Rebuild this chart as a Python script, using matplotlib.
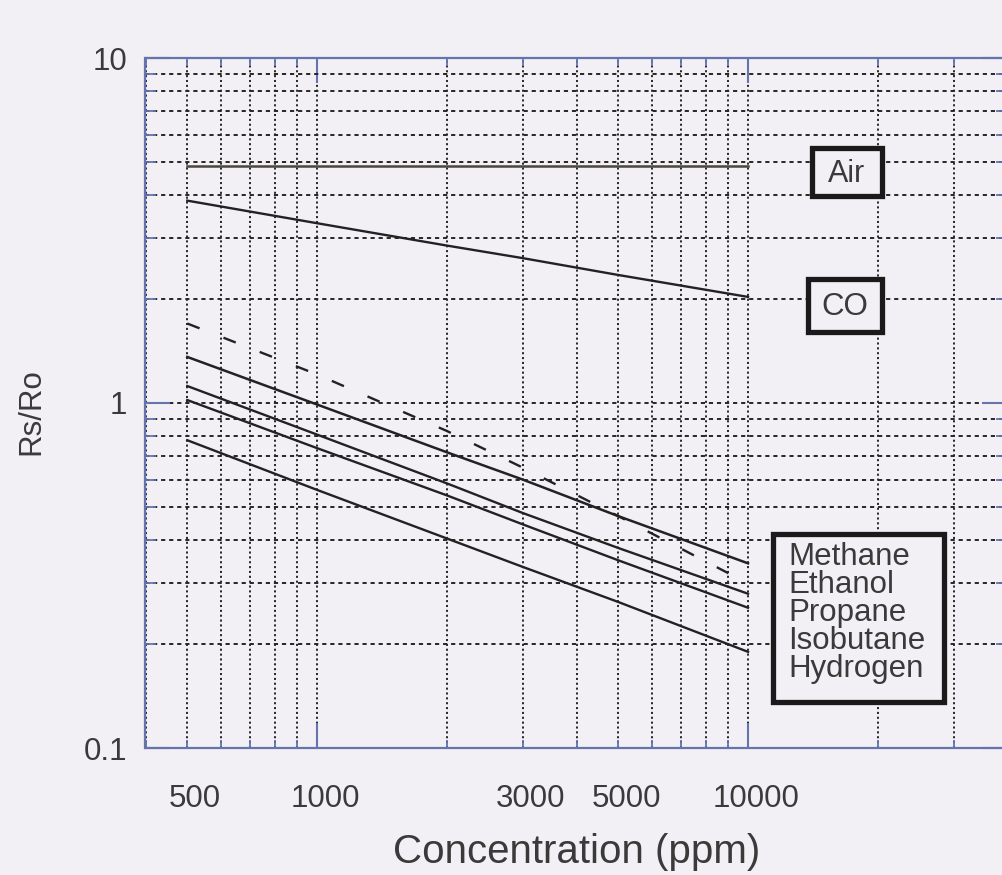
import matplotlib
matplotlib.use('Agg')
import matplotlib.pyplot as plt
import matplotlib.transforms as mtransforms
from matplotlib.ticker import FixedLocator, FixedFormatter, LogLocator, NullFormatter
from matplotlib.patches import Rectangle

plt.rcParams['font.family'] = ['Liberation Sans', 'DejaVu Sans']
plt.rcParams['lines.scale_dashes'] = False

# ---------------- data ----------------
conc_ppm = [500, 1000, 2000, 3000, 5000, 10000]
air_rs = [4.85, 4.85, 4.85, 4.85, 4.85, 4.85]
co_rs = [3.86, 3.32, 2.86, 2.63, 2.35, 2.03]
methane_rs = [1.70, 1.21, 0.83, 0.65, 0.47, 0.30]
ethanol_rs = [1.36, 0.99, 0.72, 0.60, 0.47, 0.343]
propane_rs = [1.12, 0.81, 0.585, 0.48, 0.38, 0.28]
isobutane_rs = [1.02, 0.74, 0.54, 0.445, 0.35, 0.255]
hydrogen_rs = [0.78, 0.56, 0.405, 0.335, 0.265, 0.19]

gas_names = ['Methane', 'Ethanol', 'Propane', 'Isobutane', 'Hydrogen']
x_tick_values = [500, 1000, 3000, 5000, 10000]
x_tick_labels = ['500', '1000', '3000', '5000', '10000']
x_long_ticks = [1000, 10000]
y_tick_values = [0.1, 1, 10]
y_tick_labels = ['0.1', '1', '10']

# ---------------- style ----------------
W, H = 1003, 875
bg = '#f2f0f4'
spine_col = '#6674ad'
grid_col = '#262626'
line_col = '#222222'
text_col = '#3a3a3a'

fig = plt.figure(figsize=(W / 100, H / 100), dpi=100, facecolor=bg)
ax = fig.add_axes([145.5 / W, 127 / H, 862 / W, 690 / H], facecolor=bg)

ax.set_xscale('log')
ax.set_yscale('log')
ax.set_xlim(400, 40000)
ax.set_ylim(0.1, 10)

ax.plot(conc_ppm, air_rs, color='#4a4640', lw=1.8, zorder=3)
ax.plot(conc_ppm, co_rs, color=line_col, lw=1.7, zorder=3)
ax.plot(conc_ppm, methane_rs, color=line_col, lw=1.7, zorder=3,
        linestyle=(0, (9.5, 18.5)))
ax.plot(conc_ppm, ethanol_rs, color=line_col, lw=1.8, zorder=3)
ax.plot(conc_ppm, propane_rs, color=line_col, lw=1.7, zorder=3)
ax.plot(conc_ppm, isobutane_rs, color=line_col, lw=1.7, zorder=3)
ax.plot(conc_ppm, hydrogen_rs, color=line_col, lw=1.7, zorder=3)

# ticks
ax.xaxis.set_major_locator(FixedLocator(x_tick_values))
ax.xaxis.set_major_formatter(FixedFormatter(x_tick_labels))
ax.xaxis.set_minor_locator(LogLocator(base=10, subs=list(range(2, 10)), numticks=30))
ax.xaxis.set_minor_formatter(NullFormatter())
ax.yaxis.set_major_locator(FixedLocator(y_tick_values))
ax.yaxis.set_major_formatter(FixedFormatter(y_tick_labels))
ax.yaxis.set_minor_locator(LogLocator(base=10, subs=list(range(2, 10)), numticks=30))
ax.yaxis.set_minor_formatter(NullFormatter())

ax.tick_params(which='both', direction='in', top=True, right=True,
               color=spine_col, labelcolor=text_col, labelsize=22.5)
ax.tick_params(axis='y', which='major', length=18, width=1.5, pad=13)
ax.tick_params(axis='y', which='minor', length=8, width=1.3)
ax.tick_params(axis='x', which='major', length=6, width=1.3, pad=26)
ax.tick_params(axis='x', which='minor', length=6, width=1.3)

shift = mtransforms.ScaledTranslation(8 / 100, 0, fig.dpi_scale_trans)
for val, tick in zip(x_tick_values, ax.xaxis.get_major_ticks(len(x_tick_values))):
    size = 18 if val in x_long_ticks else 6
    tick.tick1line.set_markersize(size)
    tick.tick2line.set_markersize(size)
    tick.tick1line.set_markeredgewidth(1.5 if val in x_long_ticks else 1.3)
    tick.tick2line.set_markeredgewidth(1.5 if val in x_long_ticks else 1.3)
    tick.label1.set_transform(tick.label1.get_transform() + shift)

# grid
ax.set_axisbelow(True)
ax.xaxis.grid(True, which='both', color=grid_col, lw=1.4, linestyle=(0, (1.5, 2.0)))
ax.yaxis.grid(True, which='both', color=grid_col, lw=1.4, linestyle=(0, (3.0, 2.8)))

for sp in ax.spines.values():
    sp.set_color(spine_col)
    sp.set_linewidth(1.6)

# axis titles
fig.text(576.5 / W, 1 - 852 / H, 'Concentration (ppm)', ha='center', va='center',
         fontsize=29, color=text_col)
fig.text(31 / W, 1 - 412 / H, 'Rs/Ro', ha='center', va='center', rotation=90,
         fontsize=22.5, color=text_col)


# label boxes
def add_box(x0, y0, x1, y1):
    fig.add_artist(Rectangle((x0 / W, 1 - y1 / H), (x1 - x0) / W, (y1 - y0) / H,
                             transform=fig.transFigure, facecolor=bg,
                             edgecolor='#1a1a1a', linewidth=3.8, zorder=5))


add_box(812, 148, 882, 196)
fig.text(847 / W, 1 - 174 / H, 'Air', ha='center', va='center', fontsize=22,
         color=text_col, zorder=6)
add_box(808, 279, 882, 332)
fig.text(845 / W, 1 - 307 / H, 'CO', ha='center', va='center', fontsize=22.5,
         color=text_col, zorder=6)
add_box(773, 534, 944, 702)
for i, name in enumerate(gas_names):
    fig.text(788 / W, 1 - (565 + i * 28) / H, name, ha='left', va='baseline',
             fontsize=22.5, color=text_col, zorder=6)

fig.savefig('out.png', dpi=100, facecolor=bg)
